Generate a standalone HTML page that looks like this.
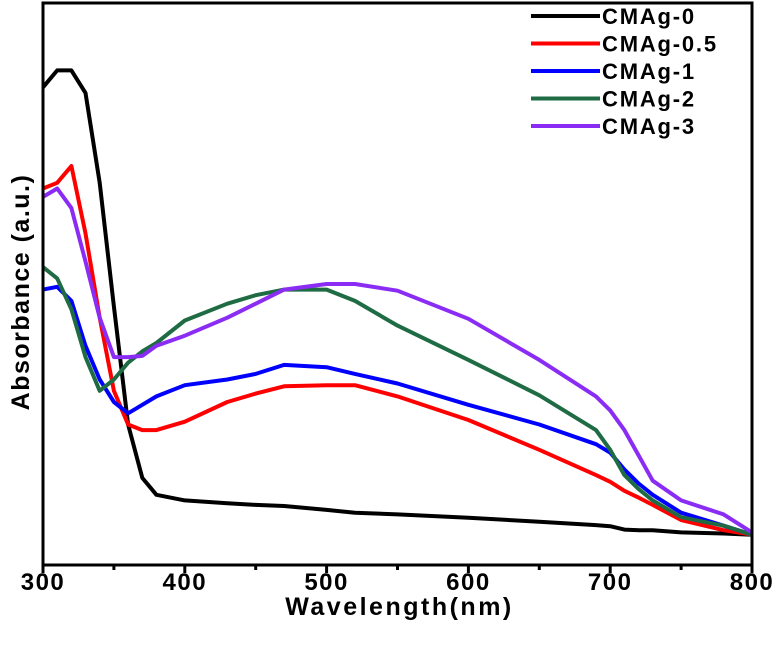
<!DOCTYPE html>
<html><head><meta charset="utf-8"><style>
html,body{margin:0;padding:0;background:#fff;}
svg{display:block;font-family:"Liberation Sans",Arial,sans-serif;font-weight:bold;}
</style></head><body>
<svg id="chart" width="779" height="655" viewBox="0 0 779 655"></svg>
<script>
const wavelengths = [300,310,320,330,340,350,360,370,380,400,430,450,470,500,520,550,600,650,690,700,710,720,730,750,780,800];
const cmag0  = [0.85,0.88,0.88,0.84,0.68,0.46,0.25,0.155,0.125,0.115,0.11,0.107,0.105,0.098,0.093,0.09,0.084,0.077,0.071,0.069,0.063,0.062,0.062,0.058,0.056,0.054];
const cmag05 = [0.67,0.68,0.71,0.59,0.44,0.31,0.25,0.24,0.24,0.255,0.29,0.305,0.318,0.32,0.32,0.30,0.258,0.205,0.16,0.148,0.132,0.12,0.107,0.08,0.062,0.054];
const cmag1  = [0.49,0.495,0.47,0.39,0.33,0.29,0.27,0.285,0.3,0.32,0.33,0.34,0.356,0.352,0.34,0.323,0.285,0.25,0.215,0.2,0.17,0.145,0.125,0.093,0.07,0.054];
const cmag2  = [0.53,0.51,0.455,0.37,0.31,0.33,0.36,0.38,0.395,0.435,0.465,0.48,0.49,0.49,0.47,0.426,0.365,0.302,0.24,0.205,0.16,0.135,0.115,0.085,0.07,0.054];
const cmag3  = [0.655,0.67,0.635,0.54,0.44,0.37,0.37,0.372,0.39,0.408,0.44,0.465,0.49,0.5,0.5,0.488,0.438,0.365,0.3,0.275,0.24,0.195,0.15,0.115,0.09,0.058];
const seriesNames = ["CMAg-0","CMAg-0.5","CMAg-1","CMAg-2","CMAg-3"];
const seriesData = [cmag0,cmag05,cmag1,cmag2,cmag3];
const seriesColors = ["#000000","#ff0000","#0000ff","#1e6b44","#8b2cf5"];
const xTicks = [300,400,500,600,700,800];
const xMinor = [350,450,550,650,750];

const L=43,R=752,T=3,B=565;
const xs=v=>L+(v-300)/(800-300)*(R-L);
const ys=v=>B-v*(B-T);
const NS="http://www.w3.org/2000/svg";
const svg=document.getElementById('chart');
function mk(tag,attrs){const e=document.createElementNS(NS,tag);for(const k in attrs)e.setAttribute(k,attrs[k]);svg.appendChild(e);return e;}

seriesData.forEach((d,i)=>{
  const pts=wavelengths.map((w,j)=>xs(w).toFixed(1)+","+ys(d[j]).toFixed(1)).join(" ");
  const p=mk('polyline',{points:pts,fill:'none',stroke:seriesColors[i],'stroke-width':4,'stroke-linejoin':'round'});
  
  
});

const frame=mk('rect',{x:L,y:T,width:R-L,height:B-T,fill:'none',stroke:'#000','stroke-width':3});



xTicks.forEach(t=>{
  const tk=mk('line',{x1:xs(t),x2:xs(t),y1:B,y2:B+8,stroke:'#000','stroke-width':3});
  
  
  const lb=mk('text',{x:xs(t),y:B+25,'text-anchor':'middle','font-size':24,'letter-spacing':1.5});
  lb.textContent=t;
  
  
});
xMinor.forEach(t=>{
  const tk=mk('line',{x1:xs(t),x2:xs(t),y1:B,y2:B+5,stroke:'#000','stroke-width':3});
  
  
});

const xt=mk('text',{x:(L+R)/2+2,y:615,'text-anchor':'middle','font-size':25,'letter-spacing':2.5});
xt.textContent='Wavelength(nm)';


const yt=mk('text',{x:0,y:0,'text-anchor':'middle','font-size':25,'letter-spacing':1.5,transform:'translate(29,292) rotate(-90)'});
yt.textContent='Absorbance (a.u.)';



seriesNames.forEach((n,i)=>{
  const y=16+i*27.5;
  const ln=mk('line',{x1:531,x2:600,y1:y,y2:y,stroke:seriesColors[i],'stroke-width':4});
  
  
  const tx=mk('text',{x:602,y:y+8,'font-size':22,'letter-spacing':1.8});
  tx.textContent=n;
  
  
});
</script>
</body></html>
